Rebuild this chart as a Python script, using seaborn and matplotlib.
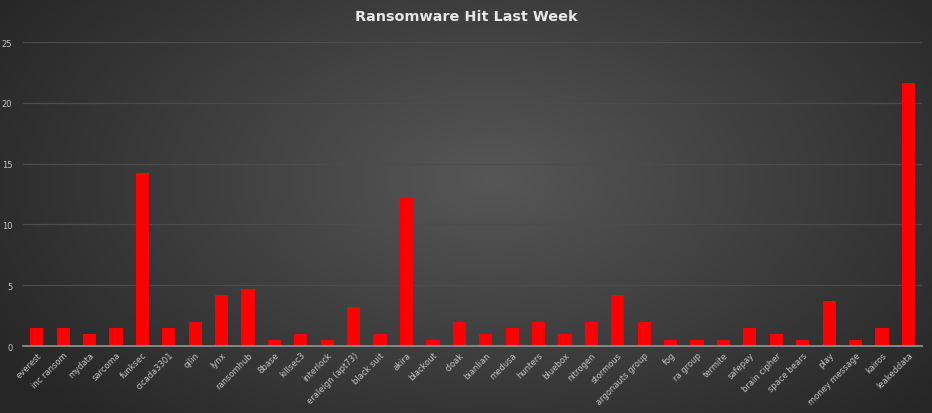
import numpy as np
import matplotlib
matplotlib.use("Agg")
import matplotlib.pyplot as plt
import seaborn as sns

# data
groups = ['everest', 'inc ransom', 'mydata', 'sarcoma', 'funksec', 'cicada3301',
          'qilin', 'lynx', 'ransomhub', '8base', 'killsec3', 'interlock',
          'eraleign (apt73)', 'black suit', 'akira', 'blackout', 'cloak',
          'bianlian', 'medusa', 'hunters', 'bluebox', 'nitrogen', 'stormous',
          'argonauts group', 'fog', 'ra group', 'termite', 'safepay',
          'brain cipher', 'space bears', 'play', 'money message', 'kairos',
          'leakeddata']
hits = [1.5, 1.5, 1, 1.5, 14.2, 1.5,
        2, 4.2, 4.7, 0.5, 1, 0.5,
        3.2, 1, 12.2, 0.5, 2,
        1, 1.5, 2, 1, 2, 4.2,
        2, 0.5, 0.5, 0.5, 1.5,
        1, 0.5, 3.7, 0.5, 1.5,
        21.6]
y_ticks = [0, 5, 10, 15, 20, 25]

sns.set_style("dark")
plt.rcParams['font.family'] = ['DejaVu Sans']

fig = plt.figure(figsize=(9.32, 4.14), dpi=100)

# radial gradient background, lighter in the middle
bg = fig.add_axes([0, 0, 1, 1], zorder=-10)
h, w = 414, 932
yy, xx = np.mgrid[0:h, 0:w]
r = np.sqrt(((xx - 490) / 580.0) ** 2 + ((yy - 180) / 340.0) ** 2)
r = np.clip(r, 0, 1)
shade = 0.34 - 0.19 * r
img = np.dstack([shade, shade, shade])
bg.imshow(img, aspect='auto', extent=[0, 1, 0, 1], origin='upper')
bg.axis('off')

ax = fig.add_axes([0.0252, 0.1618, 0.9636, 0.7342])
ax.patch.set_alpha(0)
sns.barplot(x=groups, y=hits, color='#ff0000', saturation=1, width=0.5,
            linewidth=0, ax=ax)

ax.set_ylim(0, 25)
ax.set_yticks(y_ticks)
ax.set_xlim(-0.5, len(groups) - 0.5)
ax.grid(axis='y', color='#4c4c4c', linewidth=0.9)
ax.grid(axis='x', visible=False)
ax.set_axisbelow(True)
for side in ['top', 'right', 'left']:
    ax.spines[side].set_visible(False)
ax.spines['bottom'].set_color('#8c8c8c')
ax.spines['bottom'].set_linewidth(1.3)
ax.tick_params(axis='both', length=0, colors='#c4c4c4', labelsize=6)
ax.tick_params(axis='y', pad=8)
ax.tick_params(axis='x', pad=3)
plt.setp(ax.get_xticklabels(), rotation=45, ha='right', rotation_mode='anchor')
ax.set_xlabel('')
ax.set_ylabel('')

fig.text(0.5, 0.958, 'Ransomware Hit Last Week', ha='center', va='center',
         color='#e8e8e8', fontsize=10.4, fontweight='bold')

fig.savefig('out.png', dpi=100)
